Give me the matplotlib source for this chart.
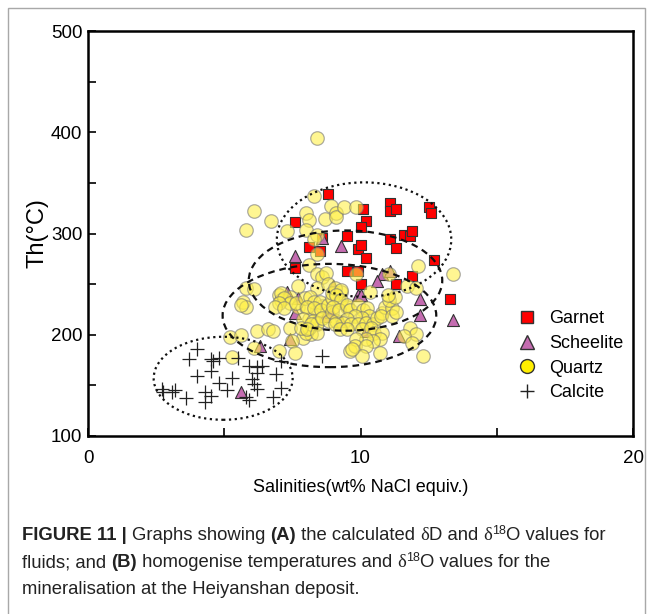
import numpy as np
import matplotlib
matplotlib.use("Agg")
import matplotlib.pyplot as plt
from matplotlib.lines import Line2D
from matplotlib.patches import Ellipse, Rectangle

# Fluid inclusion data (salinity wt% NaCl, Th in deg C)
garnet_x = [8.8, 7.6, 8.6, 8.1, 8.5, 9.5, 7.6, 9.5, 10.1, 11.1, 11.1, 11.3, 12.5, 12.6, 10.2,
            10.0, 11.1, 11.6, 11.8, 11.9, 11.3, 9.9, 10.0, 10.2, 12.7, 9.9, 11.9, 10.0, 11.3, 13.3]
garnet_y = [339, 311, 296, 287, 283, 298, 266, 263, 324, 330, 322, 324, 326, 320, 312,
            306, 295, 299, 298, 302, 286, 285, 289, 276, 274, 263, 258, 250, 250, 235]

scheelite_x = [8.6, 9.3, 7.6, 10.8, 11.1, 10.6, 9.9, 10.0, 12.2, 12.2, 13.4, 10.2, 11.4, 9.3,
               7.7, 7.6, 9.0, 8.7, 8.9, 7.4, 6.3, 5.6, 7.3]
scheelite_y = [296, 288, 278, 260, 263, 253, 239, 239, 235, 220, 215, 204, 199, 214,
               236, 221, 248, 219, 222, 196, 189, 143, 242]

quartz_x = [8.4, 6.1, 6.7, 5.8, 7.3, 8.0, 8.1, 8.3, 8.7, 8.9, 9.1, 9.1, 9.4, 8.0, 8.4, 8.3,
            8.4, 8.1, 8.4, 8.6, 8.75, 9.85, 12.1, 13.4, 9.85,
            7.7, 8.4, 5.8, 6.1, 5.7, 5.8, 5.6, 7.0, 7.1, 7.4, 7.7, 8.0, 8.4, 8.6, 9.05, 9.3,
            9.2, 9.5, 8.1, 8.4,
            5.2, 5.6, 6.2, 6.6, 6.8, 7.4, 7.9, 8.2, 7.5, 6.1, 5.3, 7.0, 7.6, 9.6, 8.0, 8.1,
            7.1, 7.2, 7.4, 7.0, 6.85, 7.2, 7.65, 7.95, 8.15, 8.3, 8.5, 8.05, 8.3, 8.55, 8.8,
            8.95, 7.9, 8.25, 8.4, 8.2, 8.6, 8.85, 7.8, 8.05, 8.4, 8.95, 9.1, 8.8, 8.95,
            9.05, 9.3, 9.1, 9.3, 9.0, 9.2, 9.5, 9.6, 9.9, 10.1, 10.25, 10.3, 10.05, 9.8, 9.5,
            9.35, 9.65, 9.9, 10.2, 10.45, 10.6, 10.8, 10.9, 11.15, 11.05, 11.25, 11.0, 10.75,
            11.15, 9.05, 9.25, 9.5, 10.05, 10.4, 10.5, 10.8, 10.7, 10.45, 10.2, 9.85, 9.8,
            10.2, 10.05, 10.7, 11.8, 12.05, 11.6, 11.9, 12.3, 10.35, 11.05, 11.7, 12.05, 9.7,
            11.3]
quartz_y = [394, 322, 312, 303, 302, 320, 313, 337, 314, 327, 320, 316, 326, 303, 299, 295,
            280, 269, 260, 257, 261, 326, 268, 260, 260,
            248, 246, 246, 245, 232, 227, 229, 239, 234, 237, 227, 227, 224, 228, 241, 242,
            232, 227, 216, 211,
            198, 200, 204, 206, 204, 207, 197, 201, 194, 187, 178, 184, 182, 184, 202, 207,
            241, 236, 231, 231, 227, 226, 231, 236, 237, 232, 232, 227, 226, 224, 229,
            236, 216, 214, 212, 211, 217, 214, 207, 206, 202, 222, 214, 250, 241,
            246, 244, 239, 234, 227, 224, 229, 224, 229, 224, 226, 219, 217, 219, 216,
            212, 211, 211, 212, 211, 217, 221, 227, 226, 234, 237, 239, 219,
            219, 211, 206, 206, 206, 207, 202, 202, 196, 194, 196, 196, 189,
            189, 179, 182, 207, 201, 199, 192, 179, 242, 260, 248, 246, 186,
            222]

calcite_x = [4.0, 3.7, 4.5, 4.6, 4.8, 4.5, 4.0, 5.3, 4.8, 5.9, 6.2, 6.4, 6.2, 6.0, 6.1,
             6.2, 6.9, 7.1, 6.8, 5.8, 5.9, 5.1, 4.3, 4.5, 4.3, 3.6, 3.2, 3.1, 2.7, 2.75,
             5.5, 7.1, 8.6]
calcite_y = [186, 176, 176, 174, 177, 164, 159, 157, 152, 169, 168, 169, 162, 156, 151,
             146, 161, 147, 139, 139, 136, 145, 143, 140, 134, 138, 145, 143, 146, 143,
             177, 174, 179]

# group outlines: centre, half width, half height (data units)
ellipse_cx = [10.13, 9.45, 8.86, 4.96]
ellipse_cy = [294, 253.5, 219, 157]
ellipse_rx = [3.2, 3.55, 3.92, 2.55]
ellipse_ry = [56.5, 49.5, 51, 41]

legend_labels = ["Garnet", "Scheelite", "Quartz", "Calcite"]

plt.rcParams["font.family"] = ["Liberation Sans", "DejaVu Sans"]

W, H = 652, 614
fig = plt.figure(figsize=(W / 100, H / 100), dpi=100)
ax = fig.add_axes([88 / W, 1 - 436 / H, 545 / W, 405 / H])

# grey panel border
fig.add_artist(Rectangle((8 / W, -0.1), (645 - 8) / W, 1.1 - 8 / H, transform=fig.transFigure,
                         fill=False, edgecolor="#a8a8a8", lw=1.0, clip_on=False))

ax.scatter(garnet_x, garnet_y, marker="s", s=60, color="#ff0000", edgecolors="#333333",
           linewidths=0.8, zorder=3)
ax.scatter(scheelite_x, scheelite_y, marker="^", s=75, color="#c46cb0", edgecolors="#333333",
           linewidths=0.8, zorder=3)
ax.scatter(quartz_x, quartz_y, marker="o", s=95, color="#fff04a", alpha=0.6,
           edgecolors="#777777", linewidths=0.9, zorder=4)
ax.scatter(calcite_x, calcite_y, marker="+", s=90, color="#222222", linewidths=0.9, zorder=5)

styles = [(0, (1, 1.6)), (0, (3, 2.2)), (0, (3, 2.2)), (0, (1, 1.6))]
for cx, cy, rx, ry, ls in zip(ellipse_cx, ellipse_cy, ellipse_rx, ellipse_ry, styles):
    ax.add_patch(Ellipse((cx, cy), 2 * rx, 2 * ry, fill=False, edgecolor="#111111",
                         linestyle=ls, lw=1.6, zorder=6))

ax.set_xlim(0, 20)
ax.set_ylim(100, 500)
ax.set_xticks([0, 10, 20])
ax.set_xticks([5, 15], minor=True)
ax.set_yticks([100, 200, 300, 400, 500])
ax.set_yticks([150, 250, 350, 450], minor=True)
ax.tick_params(which="both", direction="in", width=1.2, labelsize=13.5, pad=4)
ax.tick_params(axis="x", which="major", pad=10)
ax.tick_params(which="major", length=6)
ax.tick_params(which="minor", length=6)
for sp in ax.spines.values():
    sp.set_linewidth(1.8)

ax.set_xlabel("Salinities(wt% NaCl equiv.)", fontsize=13, labelpad=9)
ax.set_ylabel("Th(°C)", fontsize=17, labelpad=2)

handles = [
    Line2D([], [], marker="s", ls="none", ms=9, mfc="#ff0000", mec="#333333"),
    Line2D([], [], marker="^", ls="none", ms=10, mfc="#c46cb0", mec="#333333"),
    Line2D([], [], marker="o", ls="none", ms=10, mfc="#ffee00", mec="#333333"),
    Line2D([], [], marker="+", ls="none", ms=10, mec="#222222", mew=1.0),
]
ax.legend(handles, legend_labels, loc="center left", bbox_to_anchor=(0.76, 0.198),
          frameon=False, fontsize=13, handlelength=1.0, handletextpad=0.7, labelspacing=0.42)

# caption with mixed bold / superscript pieces
renderer = fig.canvas.get_renderer()
cap_font = ["Liberation Sans", "DejaVu Sans"]
serif = ["Liberation Serif", "DejaVu Serif"]


def caption_line(y_px, pieces):
    x = 22 / W
    for txt, weight, kind in pieces:
        size = 13.3
        yy = 1 - y_px / H
        fam = cap_font
        if kind == "sup":
            size = 9
            yy += 6 / H
        elif kind == "serif":
            fam = serif
        t = fig.text(x, yy, txt, fontsize=size, fontweight=weight, family=fam, va="baseline",
                     color="#222222")
        x += t.get_window_extent(renderer).width / W


caption_line(540, [("FIGURE 11 | ", "bold", ""), ("Graphs showing ", "normal", ""),
                   ("(A)", "bold", ""), (" the calculated ", "normal", ""), ("δ", "normal", "serif"),
                   ("D and ", "normal", ""), ("δ", "normal", "serif"), ("18", "normal", "sup"),
                   ("O values for", "normal", "")])
caption_line(567, [("fluids; and ", "normal", ""), ("(B)", "bold", ""),
                   (" homogenise temperatures and ", "normal", ""), ("δ", "normal", "serif"),
                   ("18", "normal", "sup"), ("O values for the", "normal", "")])
caption_line(594, [("mineralisation at the Heiyanshan deposit.", "normal", "")])

fig.savefig("out.png", dpi=100)
